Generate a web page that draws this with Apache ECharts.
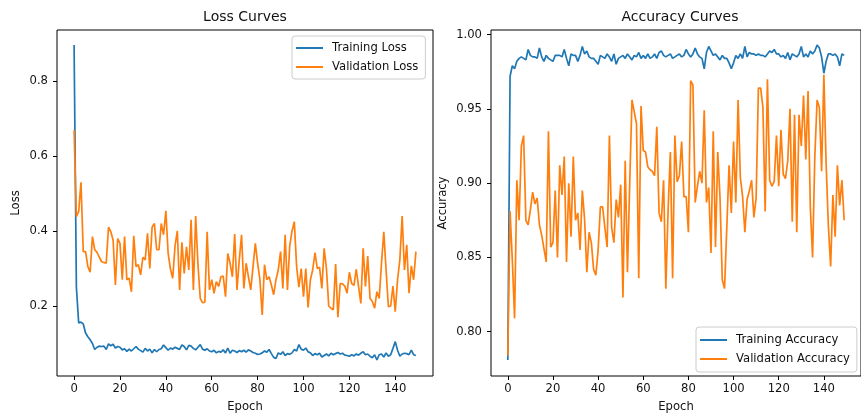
<!DOCTYPE html>
<html>
<head>
<meta charset="utf-8">
<script src="https://cdn.jsdelivr.net/npm/echarts@6/dist/echarts.min.js"></script>
<style>
html,body{margin:0;padding:0;background:#fff;}
#chart{width:861px;height:418px;}
</style>
</head>
<body>
<div id="chart"></div>
<script>
// ---- data ----
const epochs = Array.from({length: 150}, (_, i) => i);

const trainLoss = [
  0.896, 0.25, 0.155, 0.157, 0.152, 0.128, 0.118, 0.110, 0.100, 0.084,
  0.090, 0.093, 0.092, 0.093, 0.084, 0.099, 0.094, 0.098, 0.088, 0.092,
  0.090, 0.083, 0.086, 0.079, 0.085, 0.080, 0.086, 0.092, 0.085, 0.081,
  0.077, 0.087, 0.080, 0.085, 0.075, 0.084, 0.078, 0.084, 0.086, 0.096,
  0.089, 0.082, 0.088, 0.085, 0.090, 0.087, 0.084, 0.096, 0.092, 0.083,
  0.095, 0.093, 0.087, 0.083, 0.090, 0.097, 0.085, 0.082, 0.086, 0.080,
  0.078, 0.082, 0.075, 0.079, 0.077, 0.083, 0.075, 0.088, 0.074, 0.082,
  0.080, 0.076, 0.081, 0.078, 0.082, 0.077, 0.083, 0.080, 0.076, 0.074,
  0.071, 0.072, 0.075, 0.080, 0.077, 0.084, 0.073, 0.063, 0.060, 0.075,
  0.071, 0.078, 0.068, 0.073, 0.071, 0.075, 0.084, 0.080, 0.097, 0.085,
  0.082, 0.088, 0.078, 0.075, 0.068, 0.073, 0.070, 0.074, 0.064, 0.068,
  0.072, 0.067, 0.074, 0.070, 0.073, 0.076, 0.072, 0.074, 0.069, 0.068,
  0.066, 0.070, 0.067, 0.072, 0.069, 0.074, 0.078, 0.070, 0.072, 0.066,
  0.062, 0.070, 0.056, 0.070, 0.072, 0.064, 0.075, 0.066, 0.070, 0.087,
  0.105, 0.082, 0.066, 0.072, 0.074, 0.073, 0.070, 0.082, 0.070, 0.068
];

const valLoss = [
  0.669, 0.438, 0.452, 0.53, 0.345, 0.345, 0.305, 0.29, 0.385, 0.35,
  0.343, 0.33, 0.318, 0.316, 0.314, 0.41, 0.398, 0.376, 0.256, 0.38,
  0.367, 0.27, 0.385, 0.27, 0.274, 0.238, 0.387, 0.305, 0.31, 0.283,
  0.33, 0.323, 0.394, 0.30, 0.41, 0.42, 0.35, 0.35, 0.42, 0.39,
  0.454, 0.34, 0.298, 0.274, 0.36, 0.40, 0.243, 0.37, 0.287, 0.358,
  0.296, 0.43, 0.243, 0.44, 0.31, 0.22, 0.209, 0.21, 0.398, 0.243,
  0.27, 0.234, 0.265, 0.252, 0.278, 0.28, 0.225, 0.34, 0.314, 0.278,
  0.392, 0.243, 0.323, 0.39, 0.247, 0.314, 0.278, 0.243, 0.305, 0.367,
  0.314, 0.27, 0.176, 0.31, 0.27, 0.278, 0.256, 0.23, 0.27, 0.296,
  0.345, 0.247, 0.39, 0.243, 0.36, 0.40, 0.425, 0.305, 0.25, 0.30,
  0.225, 0.30, 0.196, 0.27, 0.296, 0.342, 0.30, 0.303, 0.247, 0.354,
  0.30, 0.20, 0.194, 0.19, 0.312, 0.17, 0.26, 0.259, 0.253, 0.234,
  0.29, 0.26, 0.255, 0.298, 0.252, 0.207, 0.354, 0.252, 0.333, 0.22,
  0.212, 0.194, 0.238, 0.22, 0.314, 0.398, 0.296, 0.198, 0.20, 0.253,
  0.185, 0.27, 0.323, 0.44, 0.296, 0.363, 0.234, 0.307, 0.27, 0.345
];

const trainAcc = [
  0.781, 0.972, 0.979, 0.977, 0.982, 0.984, 0.985, 0.984, 0.983, 0.990,
  0.986, 0.985, 0.985, 0.984, 0.991, 0.985, 0.982, 0.986, 0.984, 0.983,
  0.982, 0.986, 0.986, 0.986, 0.985, 0.990, 0.984, 0.979, 0.987, 0.986,
  0.986, 0.982, 0.986, 0.992, 0.987, 0.989, 0.985, 0.984, 0.984, 0.982,
  0.980, 0.986, 0.985, 0.984, 0.987, 0.985, 0.982, 0.987, 0.980, 0.984,
  0.985, 0.986, 0.984, 0.987, 0.985, 0.983, 0.986, 0.985, 0.988, 0.984,
  0.986, 0.984, 0.987, 0.984, 0.985, 0.987, 0.984, 0.988, 0.989, 0.986,
  0.985, 0.986, 0.987, 0.984, 0.985, 0.986, 0.987, 0.985, 0.986, 0.990,
  0.987, 0.985, 0.987, 0.991, 0.987, 0.985, 0.984, 0.977, 0.988, 0.992,
  0.989, 0.986, 0.987, 0.985, 0.983, 0.986, 0.984, 0.984, 0.981, 0.977,
  0.981, 0.986, 0.984, 0.987, 0.984, 0.992, 0.985, 0.988, 0.987, 0.987,
  0.986, 0.987, 0.986, 0.986, 0.985, 0.987, 0.989, 0.988, 0.990, 0.987,
  0.987, 0.985, 0.986, 0.984, 0.988, 0.983, 0.987, 0.986, 0.985, 0.987,
  0.992, 0.985, 0.987, 0.985, 0.989, 0.987, 0.989, 0.993, 0.991, 0.985,
  0.974, 0.982, 0.987, 0.987, 0.986, 0.987, 0.985, 0.979, 0.987, 0.986
];

const valAcc = [
  0.784, 0.881, 0.848, 0.809, 0.902, 0.875, 0.925, 0.932, 0.875, 0.872,
  0.882, 0.894, 0.886, 0.89, 0.872, 0.865, 0.856, 0.847, 0.935, 0.857,
  0.86, 0.895, 0.85, 0.912, 0.892, 0.918, 0.847, 0.90, 0.864, 0.918,
  0.875, 0.88, 0.855, 0.895, 0.876, 0.84, 0.867, 0.86, 0.842, 0.838,
  0.855, 0.884, 0.884, 0.87, 0.857, 0.932, 0.87, 0.86, 0.889, 0.877,
  0.899, 0.823, 0.915, 0.84, 0.9, 0.956, 0.948, 0.94, 0.836, 0.952,
  0.922, 0.921, 0.911, 0.909, 0.908, 0.905, 0.938, 0.88, 0.874, 0.902,
  0.829, 0.882, 0.921, 0.836, 0.932, 0.901, 0.905, 0.928, 0.891, 0.891,
  0.867, 0.969, 0.966, 0.887, 0.898, 0.908, 0.9, 0.949, 0.887, 0.897,
  0.853, 0.935, 0.857, 0.921, 0.89, 0.835, 0.829, 0.87, 0.912, 0.88,
  0.928, 0.887, 0.956, 0.904, 0.891, 0.867, 0.889, 0.895, 0.902, 0.877,
  0.89, 0.964, 0.964, 0.951, 0.881, 0.97, 0.902, 0.898, 0.901, 0.932,
  0.898, 0.936, 0.906, 0.903, 0.915, 0.95, 0.874, 0.946, 0.867, 0.946,
  0.925, 0.959, 0.916, 0.962, 0.884, 0.85, 0.918, 0.956, 0.951, 0.908,
  0.973, 0.913, 0.871, 0.844, 0.892, 0.864, 0.912, 0.885, 0.902, 0.875
];

const xTicks = [0, 20, 40, 60, 80, 100, 120, 140];
const lossTicks = [0.2, 0.4, 0.6, 0.8];
const accTicks = [0.80, 0.85, 0.90, 0.95, 1.00];

// ---- chart ----
const FONT = 'DejaVu Sans';
const TXT = '#111';
const C1 = '#1f77b4', C2 = '#ff7f0e';
const pairs = arr => epochs.map((e, i) => [e, arr[i]]);

function xAxisOf(gi) {
  return {
    type: 'value', gridIndex: gi, min: -7.45, max: 156.45,
    name: 'Epoch', nameLocation: 'middle', nameGap: 25,
    nameTextStyle: {fontFamily: FONT, fontSize: 11.6, color: TXT},
    axisLine: {show: false, onZero: false},
    splitLine: {show: false},
    axisTick: {show: true, inside: false, length: 4, customValues: xTicks,
               lineStyle: {color: '#000', width: 1}},
    axisLabel: {customValues: xTicks, margin: 7, fontFamily: FONT, fontSize: 11.6, color: TXT}
  };
}
function yAxisOf(gi, min, max, ticks, dec, name, gap) {
  return {
    type: 'value', gridIndex: gi, min: min, max: max,
    name: name, nameLocation: 'middle', nameGap: gap, nameRotate: 90,
    nameTextStyle: {fontFamily: FONT, fontSize: 11.6, color: TXT},
    axisLine: {show: false, onZero: false},
    splitLine: {show: false},
    axisTick: {show: true, inside: false, length: 4, customValues: ticks,
               lineStyle: {color: '#000', width: 1}},
    axisLabel: {customValues: ticks, margin: 9, fontFamily: FONT, fontSize: 11.6, color: TXT,
                formatter: v => Number(v).toFixed(dec)}
  };
}
const legendBase = {
  orient: 'vertical', align: 'left', icon: 'rect', itemWidth: 27, itemHeight: 2,
  itemGap: 5, borderColor: '#cccccc', borderWidth: 1, borderRadius: 3,
  backgroundColor: 'rgba(255,255,255,0.8)',
  textStyle: {fontFamily: FONT, fontSize: 11.6, color: TXT, lineHeight: 14, padding: [0, 0, 0, 4]}
};

const chart = echarts.init(document.getElementById('chart'), null, {renderer: 'canvas'});
chart.setOption({
  animation: false,
  backgroundColor: '#fff',
  title: [
    {text: 'Loss Curves', left: 245, top: 10, textAlign: 'center', padding: 0,
     textStyle: {fontFamily: FONT, fontSize: 14, fontWeight: 'normal', color: TXT}},
    {text: 'Accuracy Curves', left: 680, top: 10, textAlign: 'center', padding: 0,
     textStyle: {fontFamily: FONT, fontSize: 14, fontWeight: 'normal', color: TXT}}
  ],
  legend: [
    Object.assign({}, legendBase, {data: ['Training Loss', 'Validation Loss'],
      left: 292, top: 36, padding: [5, 7, 5, 4]}),
    Object.assign({}, legendBase, {data: ['Training Accuracy', 'Validation Accuracy'],
      left: 696, top: 327, padding: [6, 7, 6, 4]})
  ],
  grid: [
    {left: 57, top: 30, width: 376, height: 346, show: true, borderColor: '#000', borderWidth: 1,
     backgroundColor: 'transparent'},
    {left: 491, top: 30, width: 380, height: 346, show: true, borderColor: '#000', borderWidth: 1,
     backgroundColor: 'transparent'}
  ],
  xAxis: [xAxisOf(0), xAxisOf(1)],
  yAxis: [
    yAxisOf(0, 0.0133, 0.936, lossTicks, 1, 'Loss', 35),
    yAxisOf(1, 0.7702, 1.0031, accTicks, 2, 'Accuracy', 42)
  ],
  series: [
    {name: 'Training Loss', type: 'line', xAxisIndex: 0, yAxisIndex: 0, data: pairs(trainLoss),
     showSymbol: false, lineStyle: {color: C1, width: 1.7}, itemStyle: {color: C1}},
    {name: 'Validation Loss', type: 'line', xAxisIndex: 0, yAxisIndex: 0, data: pairs(valLoss),
     showSymbol: false, lineStyle: {color: C2, width: 1.7}, itemStyle: {color: C2}},
    {name: 'Training Accuracy', type: 'line', xAxisIndex: 1, yAxisIndex: 1, data: pairs(trainAcc),
     showSymbol: false, lineStyle: {color: C1, width: 1.7}, itemStyle: {color: C1}},
    {name: 'Validation Accuracy', type: 'line', xAxisIndex: 1, yAxisIndex: 1, data: pairs(valAcc),
     showSymbol: false, lineStyle: {color: C2, width: 1.7}, itemStyle: {color: C2}}
  ]
});
</script>
</body>
</html>
